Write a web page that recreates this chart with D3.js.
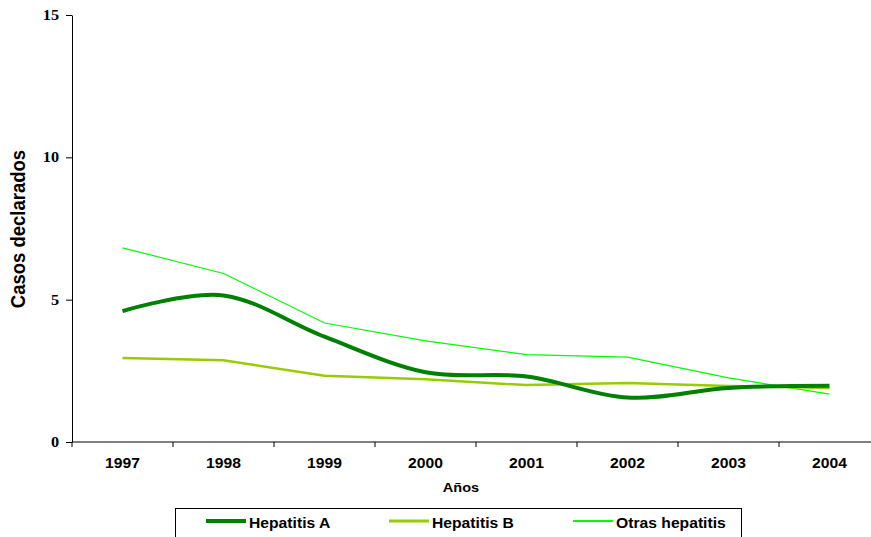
<!DOCTYPE html>
<html><head><meta charset="utf-8">
<script src="https://cdn.jsdelivr.net/npm/d3@7"></script>
<style>body{margin:0;background:#fff}svg{display:block}</style>
</head><body>
<svg id="c" width="871" height="537"></svg>
<script>
const years = ["1997","1998","1999","2000","2001","2002","2003","2004"];
const hepA = [4.6, 5.15, 3.7, 2.45, 2.3, 1.56, 1.9, 1.98];
const hepB = [2.95, 2.87, 2.33, 2.2, 2.0, 2.07, 1.97, 1.9];
const otras = [6.82, 5.92, 4.18, 3.55, 3.07, 2.98, 2.25, 1.68];
const yTicks = [0, 5, 10, 15];
const seriesNames = ["Hepatitis A", "Hepatitis B", "Otras hepatitis"];

(function () {
const svg = d3.select("#c");
const mLeft = 72, mRight = 880, mTop = 15, mBottom = 442;
const sx = "scale(1.12,1)";
const sans = "Liberation Sans, Arial, sans-serif";
const x = d3.scaleBand().domain(years).range([mLeft, mRight]);
const y = d3.scaleLinear().domain([0, 15]).range([mBottom, mTop]);

// y axis
const ya = svg.append("g").attr("transform", `translate(${mLeft},0)`)
  .call(d3.axisLeft(y).tickValues(yTicks).tickSize(6).tickSizeOuter(0).tickPadding(0));
ya.select(".domain").attr("stroke", "#000");
ya.selectAll("text").attr("font-family", "Liberation Serif, Times New Roman, serif")
  .attr("font-weight", "bold").attr("font-size", 14.5).attr("fill", "#000")
  .attr("x", -11.6).attr("transform", sx);

// x axis
const xa = svg.append("g").attr("transform", `translate(0,${mBottom})`)
  .call(d3.axisBottom(x).tickSize(0).tickPadding(16));
xa.select(".domain").attr("stroke", "#000").attr("d", `M${mLeft},0H${mRight}`);
xa.selectAll("text").attr("font-family", sans)
  .attr("font-weight", "bold").attr("font-size", 14).attr("fill", "#000")
  .attr("transform", sx);
xa.selectAll(".bnd").data(years).enter().append("line")
  .attr("x1", d => x(d)).attr("x2", d => x(d)).attr("y1", 0).attr("y2", 5)
  .attr("stroke", "#000");

// titles
svg.append("text").attr("transform", "translate(25,229) rotate(-90) scale(1,1.1)")
  .attr("text-anchor", "middle").attr("font-family", sans)
  .attr("font-weight", "bold").attr("font-size", 18.5).text("Casos declarados");
svg.append("g").attr("transform", "translate(461,492)").append("text")
  .attr("text-anchor", "middle").attr("transform", sx)
  .attr("font-family", sans).attr("font-weight", "bold").attr("font-size", 13).text("Años");

const cx = d => x(d) + x.bandwidth() / 2;
const series = [
  {name: seriesNames[0], data: hepA, color: "#008000", w: 4, lw: 4, curve: d3.curveCardinal.tension(0)},
  {name: seriesNames[1], data: hepB, color: "#99cc00", w: 2.5, lw: 3, curve: d3.curveLinear},
  {name: seriesNames[2], data: otras, color: "#00ff00", w: 1.2, lw: 2, curve: d3.curveLinear}
];
[series[2], series[1], series[0]].forEach(s => {
  const line = d3.line().x((d, i) => cx(years[i])).y(d => y(d)).curve(s.curve);
  svg.append("path").datum(s.data).attr("d", line).attr("fill", "none")
    .attr("stroke", s.color).attr("stroke-width", s.w).attr("stroke-linejoin", "round");
});

// legend
const lg = svg.append("g");
lg.append("rect").attr("x", 175.5).attr("y", 508.5).attr("width", 566).attr("height", 40)
  .attr("fill", "#fff").attr("stroke", "#000");
const lx = [206, 389, 573];
series.forEach((s, i) => {
  lg.append("line").attr("x1", lx[i]).attr("x2", lx[i] + 40).attr("y1", 521).attr("y2", 521)
    .attr("stroke", s.color).attr("stroke-width", s.lw);
  lg.append("g").attr("transform", `translate(${lx[i] + 43},528)`).append("text")
    .attr("transform", sx)
    .attr("font-family", sans).attr("font-weight", "bold")
    .attr("font-size", 14).text(s.name);
});
})();
</script>
</body></html>
